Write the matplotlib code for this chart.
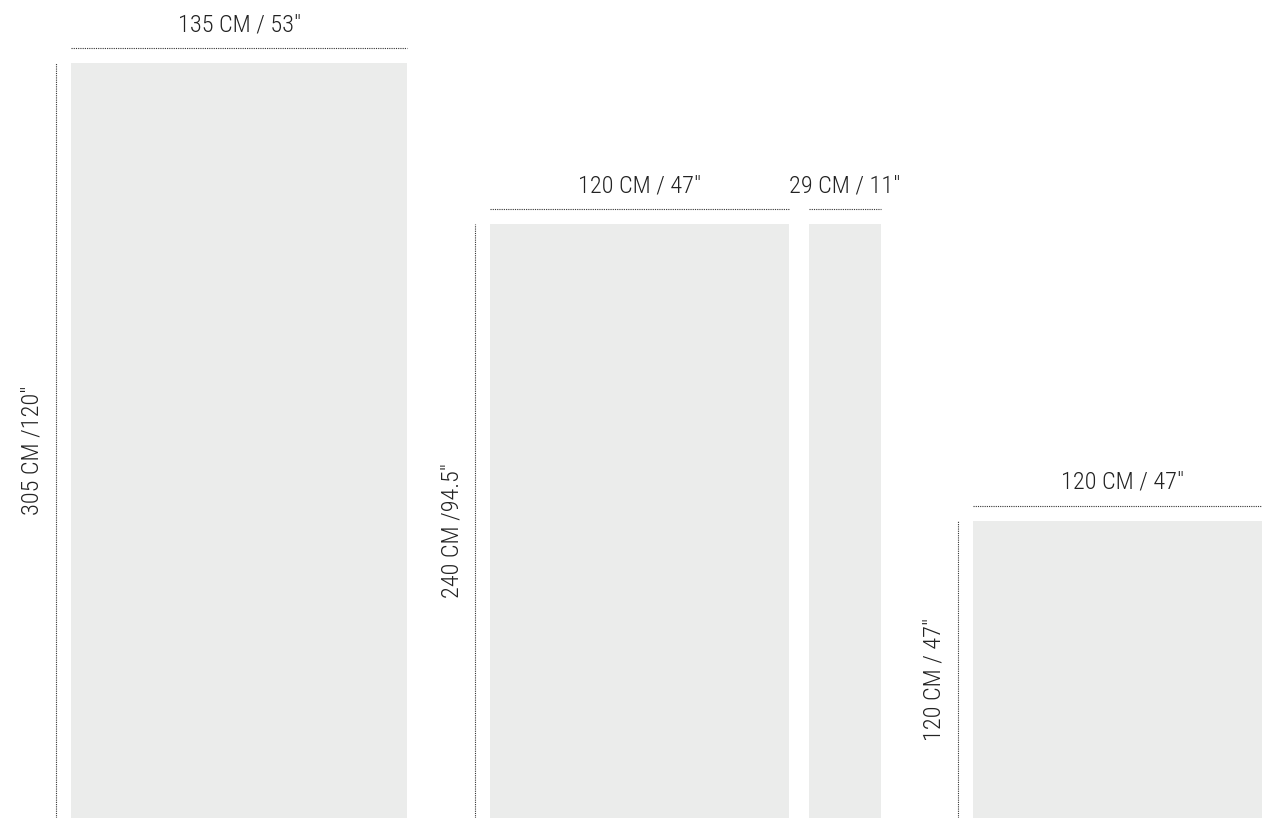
import matplotlib
matplotlib.use('Agg')
import matplotlib.pyplot as plt
from matplotlib import font_manager
from matplotlib.patches import Rectangle

# ---- data (panel sizes in cm) ----
widths_cm     = [135, 120, 29, 120]
heights_cm    = [305, 240, 240, 120]
width_labels  = ['135 CM / 53"', '120 CM / 47"', '29 CM / 11"', '120 CM / 47"']
height_labels = ['305 CM /120"', '240 CM /94.5"', None, '120 CM / 47"']
gaps_cm       = [28.5, 33.3, 8.0, 36.9]   # free space before each panel

# ---- style ----
PX_X, PX_Y = 2.49, 2.475     # pixels per cm
W_PX, H_PX = 1262, 818
PANEL_COL  = '#ebeceb'
LINE_COL   = '#333333'
TEXT_COL   = '#222222'

# pick a condensed font if one is installed
names = {f.name for f in font_manager.fontManager.ttflist}
family = 'DejaVu Sans'
for cand in ['Roboto Condensed', 'DejaVu Sans Condensed', 'Liberation Sans Narrow',
             'Open Sans Condensed', 'Noto Sans Condensed']:
    if cand in names:
        family = cand
        break
stretch = 'condensed' if family == 'DejaVu Sans' else 'normal'

fig = plt.figure(figsize=(W_PX / 100, H_PX / 100), dpi=100)
ax = fig.add_axes([0, 0, 1, 1])
ax.set_xlim(0, W_PX / PX_X)
ax.set_ylim(0, H_PX / PX_Y)
ax.axis('off')

line_off_x = 15 / PX_X    # dotted line distance from panel edge
line_off_y = 15 / PX_Y
text_off_x = 17 / PX_X    # dotted line to label baseline
text_off_y = 17 / PX_Y
txt_kw = dict(family=family, fontstretch=stretch, fontweight='light',
              fontsize=17.5, color=TEXT_COL)
dots = (0, (1, 1))

x = 0
for w, h, wl, hl, g in zip(widths_cm, heights_cm, width_labels, height_labels, gaps_cm):
    x += g
    ax.add_patch(Rectangle((x, 0), w, h, facecolor=PANEL_COL, edgecolor='none'))
    # width dimension
    ax.plot([x, x + w], [h + line_off_y] * 2, color=LINE_COL, lw=0.8, linestyle=dots)
    ax.text(x + w / 2, h + line_off_y + text_off_y, wl, ha='center', va='baseline', **txt_kw)
    # height dimension
    if hl:
        ax.plot([x - line_off_x] * 2, [0, h], color=LINE_COL, lw=0.8, linestyle=dots)
        ax.text(x - line_off_x - text_off_x, h / 2 - 4, hl, ha='center', va='baseline',
                rotation=90, rotation_mode='anchor', **txt_kw)
    x += w

fig.savefig('out.png', dpi=100)
